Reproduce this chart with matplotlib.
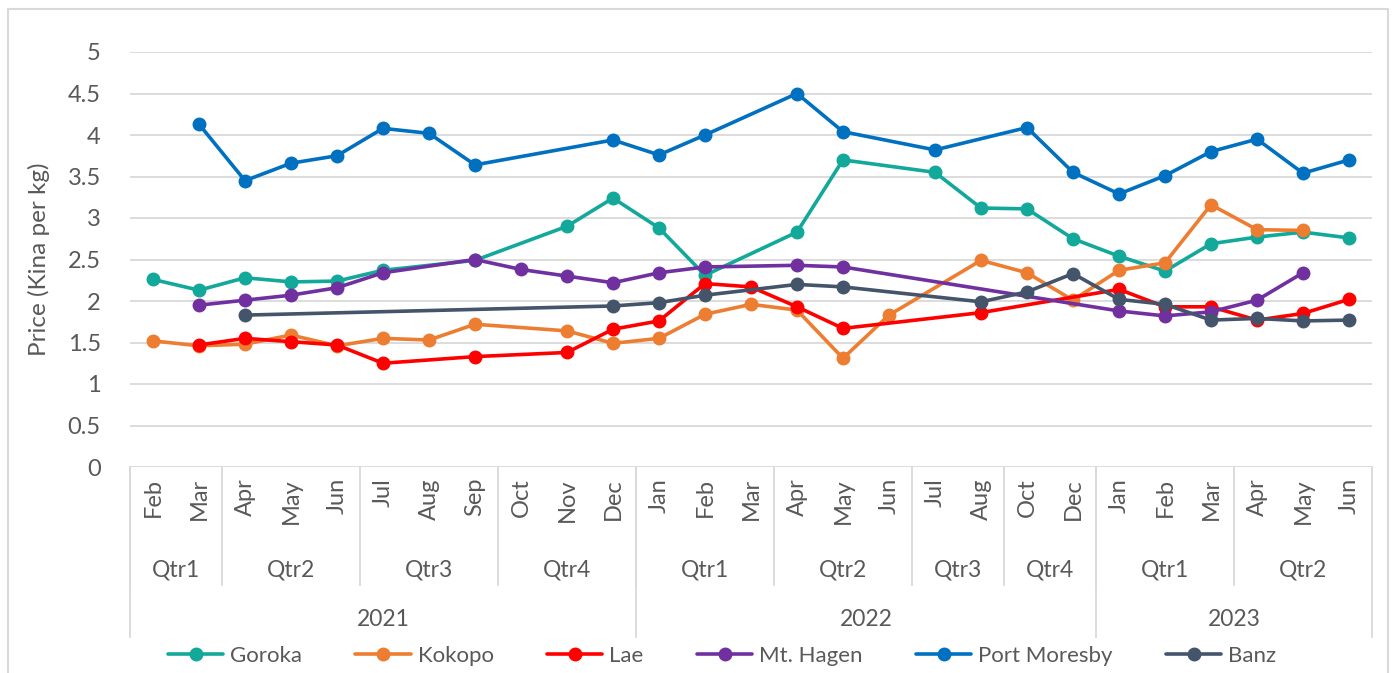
import matplotlib
matplotlib.use("Agg")
import matplotlib.pyplot as plt
import numpy as np
from matplotlib.transforms import blended_transform_factory
from matplotlib.lines import Line2D
from matplotlib.patches import Rectangle

plt.rcParams['font.family'] = ['Lato', 'DejaVu Sans']

months = ["Feb", "Mar", "Apr", "May", "Jun", "Jul", "Aug", "Sep", "Oct", "Nov", "Dec",
          "Jan", "Feb", "Mar", "Apr", "May", "Jun", "Jul", "Aug", "Oct", "Dec",
          "Jan", "Feb", "Mar", "Apr", "May", "Jun"]
quarters = ["Qtr1", "Qtr1", "Qtr2", "Qtr2", "Qtr2", "Qtr3", "Qtr3", "Qtr3", "Qtr4", "Qtr4", "Qtr4",
            "Qtr1", "Qtr1", "Qtr1", "Qtr2", "Qtr2", "Qtr2", "Qtr3", "Qtr3", "Qtr4", "Qtr4",
            "Qtr1", "Qtr1", "Qtr1", "Qtr2", "Qtr2", "Qtr2"]
years = ["2021"] * 11 + ["2022"] * 10 + ["2023"] * 6

N = None
goroka = [2.26, 2.13, 2.28, 2.23, 2.24, 2.37, N, 2.49, N, 2.90, 3.24,
          2.88, 2.31, N, 2.83, 3.70, N, 3.55, 3.12, 3.11, 2.75,
          2.54, 2.36, 2.69, 2.77, 2.83, 2.76]
kokopo = [1.52, 1.46, 1.48, 1.59, 1.46, 1.55, 1.53, 1.72, N, 1.64, 1.49,
          1.55, 1.84, 1.96, 1.89, 1.31, 1.83, N, 2.49, 2.34, 2.01,
          2.37, 2.46, 3.16, 2.86, 2.85, N]
lae = [N, 1.47, 1.55, 1.51, 1.47, 1.25, N, 1.33, N, 1.38, 1.66,
       1.76, 2.21, 2.17, 1.93, 1.67, N, N, 1.86, N, N,
       2.14, 1.93, 1.93, 1.77, 1.85, 2.02]
mt_hagen = [N, 1.95, 2.01, 2.07, 2.16, 2.34, N, 2.50, 2.38, 2.30, 2.22,
            2.34, 2.41, N, 2.43, 2.41, N, N, N, N, N,
            1.88, 1.82, 1.87, 2.01, 2.34, N]
port_moresby = [N, 4.13, 3.45, 3.66, 3.75, 4.08, 4.02, 3.64, N, N, 3.94,
                3.76, 4.00, N, 4.50, 4.04, N, 3.82, N, 4.09, 3.55,
                3.29, 3.51, 3.80, 3.95, 3.54, 3.70]
banz = [N, N, 1.83, N, N, N, N, N, N, N, 1.94,
        1.98, 2.07, N, 2.20, 2.17, N, N, 1.99, 2.11, 2.33,
        2.02, 1.96, 1.77, 1.79, 1.76, 1.77]

series_names = ["Goroka", "Kokopo", "Lae", "Mt. Hagen", "Port Moresby", "Banz"]
series_values = [goroka, kokopo, lae, mt_hagen, port_moresby, banz]
series_colors = ["#12A89A", "#ED7D31", "#FF0000", "#7030A0", "#0070C0", "#44546A"]

W, H = 1393, 673
TXT = "#595959"
GRID = "#D9D9D9"
FS_TICK = 17
FS_MONTH = 17
FS_GROUP = 16.5
FS_LEG = 16
FS_YLAB = 17.5

fig = plt.figure(figsize=(W / 100, H / 100), dpi=100)
ax = fig.add_axes([130 / W, (H - 467) / H, 1242 / W, 415 / H])

# outer chart border
fig.patches.append(Rectangle((8 / W, -0.02), 1380 / W, (H - 9) / H + 0.02,
                             transform=fig.transFigure, fill=False,
                             edgecolor=GRID, lw=1.5))

x = np.arange(len(months))
handles = []
for name, vals, col in zip(series_names, series_values, series_colors):
    xs = [xi for xi, v in zip(x, vals) if v is not None]
    ys = [v for v in vals if v is not None]
    h, = ax.plot(xs, ys, color=col, lw=2.6, marker='o', markersize=9,
                 label=name, solid_capstyle='round')
    handles.append(h)

ax.set_xlim(-0.5, len(months) - 0.5)
ax.set_ylim(0, 5)
ax.set_yticks(np.arange(0, 5.01, 0.5))
ax.set_yticklabels(["0", "0.5", "1", "1.5", "2", "2.5", "3", "3.5", "4", "4.5", "5"])
ax.yaxis.grid(True, color=GRID, lw=1.3)
ax.set_axisbelow(True)
for s in ax.spines.values():
    s.set_visible(False)
ax.set_xticks([])
ax.tick_params(axis='y', length=0, pad=21, labelsize=FS_TICK, labelcolor=TXT)
ax.set_ylabel("Price (Kina per kg)", fontsize=FS_YLAB, color=TXT)
ax.yaxis.set_label_coords(-0.0644, 0.5)

# multi-level category axis
tr = blended_transform_factory(ax.transData, fig.transFigure)
fy = lambda px: 1 - px / H

for xi, m in enumerate(months):
    ax.text(xi, fy(478), m, rotation=90, ha='center', va='top',
            fontsize=FS_MONTH, color=TXT, transform=tr)

def runs(keys):
    out = []
    start = 0
    for i in range(1, len(keys) + 1):
        if i == len(keys) or keys[i] != keys[start]:
            out.append((start, i - 1))
            start = i
    return out

q_keys = [y + q for y, q in zip(years, quarters)]
for s, e in runs(q_keys):
    ax.text((s + e) / 2, fy(570), quarters[s], ha='center', va='center',
            fontsize=FS_GROUP, color=TXT, transform=tr)
    ax.add_line(Line2D([s - 0.5, s - 0.5], [fy(467), fy(585)], color=GRID,
                       lw=1.3, transform=tr, clip_on=False))
for s, e in runs(years):
    ax.text((s + e) / 2, fy(620), years[s], ha='center', va='center',
            fontsize=FS_GROUP, color=TXT, transform=tr)
    ax.add_line(Line2D([s - 0.5, s - 0.5], [fy(467), fy(637)], color=GRID,
                       lw=1.3, transform=tr, clip_on=False))
ax.add_line(Line2D([len(months) - 0.5] * 2, [fy(467), fy(637)], color=GRID,
                   lw=1.3, transform=tr, clip_on=False))

leg = fig.legend(handles, series_names, loc='center', bbox_to_anchor=(722 / W, fy(656)),
                 ncol=6, frameon=False, handlelength=2.5, handletextpad=0.3,
                 columnspacing=2.4, fontsize=FS_LEG, borderpad=0)
for t in leg.get_texts():
    t.set_color(TXT)

fig.savefig("out.png", dpi=100, facecolor="white")
